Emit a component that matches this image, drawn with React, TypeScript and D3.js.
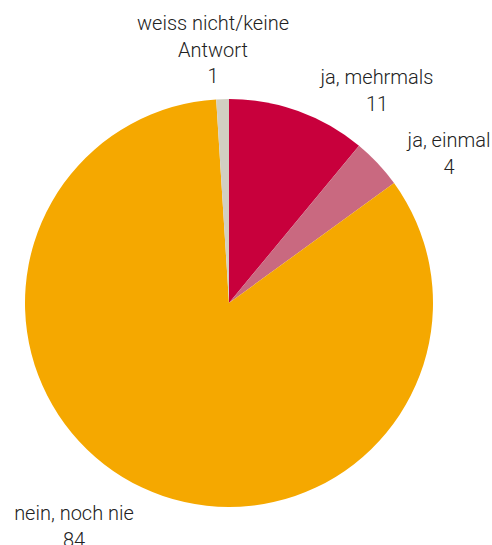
import React from 'react';
import * as d3 from 'd3';

const categories = ['ja, mehrmals', 'ja, einmal', 'nein, noch nie', 'weiss nicht/keine Antwort'];
const values = [11, 4, 84, 1];
const labelLines = [['ja, mehrmals'], ['ja, einmal'], ['nein, noch nie'], ['weiss nicht/keine', 'Antwort']];
const colors = ['#C8003C', '#C96980', '#F5A800', '#D1CFC2'];

// label anchor (baseline of first line), hand placed like the original
const labelPos: [number, number][] = [
  [377, 84],
  [449, 147],
  [74, 520],
  [213, 30],
];

const W = 492;
const H = 545;
const cx = 229;
const cy = 303;
const radius = 204;

const App: React.FC = () => {
  const pie = d3.pie<number>().sort(null).value(d => d);
  const arcs = pie(values);
  const arcGen = d3.arc<d3.PieArcDatum<number>>().innerRadius(0).outerRadius(radius);

  return (
    <svg
      width={W}
      height={H}
      style={{ position: 'absolute', left: 0, top: 0, background: '#fff' }}
      fontFamily="Roboto, 'Liberation Sans', sans-serif"
    >
      <g transform={`translate(${cx},${cy})`}>
        {arcs.map((a, i) => (
          <path key={categories[i]} d={arcGen(a) || ''} fill={colors[i]} />
        ))}
      </g>
      {categories.map((c, i) => {
        const [x, y] = labelPos[i];
        const lines = [...labelLines[i], String(values[i])];
        return (
          <text key={c} x={x} y={y} textAnchor="middle" fontSize={20} fontWeight={300} fill="#222">
            {lines.map((l, j) => (
              <tspan key={j} x={x} dy={j === 0 ? 0 : 26.5}>{l}</tspan>
            ))}
          </text>
        );
      })}
    </svg>
  );
};

export default App;
